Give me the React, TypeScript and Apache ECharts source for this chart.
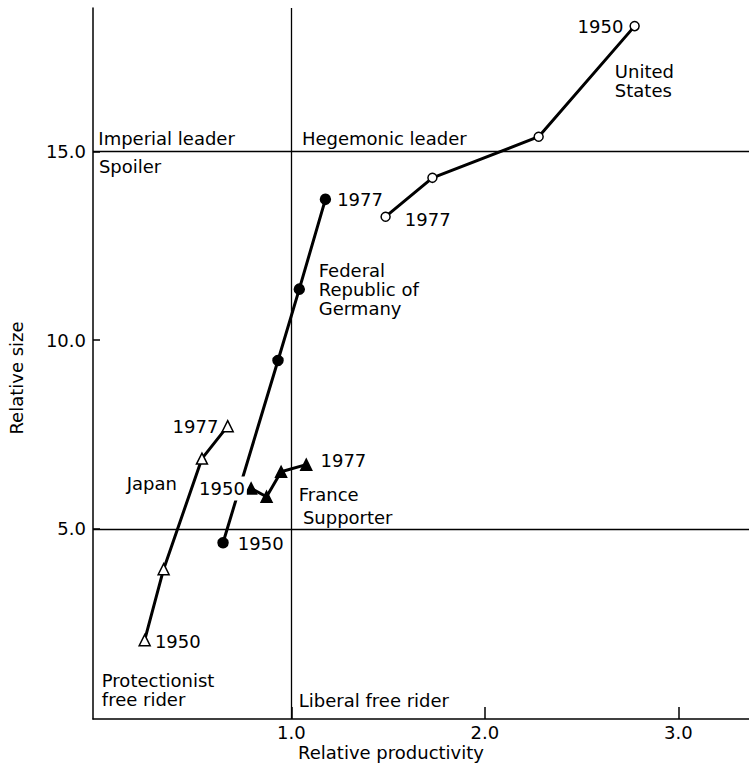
import React, { useEffect, useRef } from "react";
import * as echarts from "echarts";

// ---- data ----
const xTicks = [1, 2, 3];
const yTicks = [5, 10, 15];
const years = ["1950", "", "", "1977"];

const usX = [2.774, 2.278, 1.729, 1.487];
const usY = [18.32, 15.39, 14.3, 13.27];
const deX = [0.647, 0.931, 1.041, 1.176];
const deY = [4.63, 9.46, 11.35, 13.73];
const jpX = [0.242, 0.34, 0.538, 0.671];
const jpY = [2.05, 3.93, 6.86, 7.72];
const frX = [0.792, 0.872, 0.947, 1.077];
const frY = [6.07, 5.85, 6.51, 6.7];

const thresholdX = [1.0];
const thresholdY = [15.0, 5.0];

const noteTexts = [
  "Imperial leader",
  "Hegemonic leader",
  "Spoiler",
  "United\nStates",
  "Federal\nRepublic of\nGermany",
  "Japan",
  "France",
  "Supporter",
  "Protectionist\nfree rider",
  "Liberal free rider",
];
const noteX = [0.0, 1.052, 0.003, 2.669, 1.139, 0.147, 1.036, 1.057, 0.018, 1.036];
const noteY = [15.35, 15.35, 14.59, 16.86, 11.35, 6.19, 5.92, 5.29, 0.73, 0.44];

const xName = "Relative productivity";
const yName = "Relative size";

// ---- styles ----
const FONT = "DejaVu Sans";
const INK = "#000";
const baseText = { fontFamily: FONT, fontSize: 18, color: INK };

type LabelCfg = { position: string; distance: number; offset?: number[]; bg?: boolean };

function countrySeries(
  name: string,
  xs: number[],
  ys: number[],
  symbol: string,
  filled: boolean,
  size: number,
  labels: Record<number, LabelCfg>,
  z: number
) {
  return {
    name,
    type: "line",
    z,
    symbol,
    symbolSize: size,
    showAllSymbol: true,
    lineStyle: { color: INK, width: 3 },
    itemStyle: {
      color: filled ? INK : "#fff",
      borderColor: INK,
      borderWidth: 1.5,
    },
    data: xs.map((x, i) => {
      const cfg = labels[i];
      const d: any = { value: [x, ys[i]] };
      if (cfg && years[i]) {
        d.label = {
          show: true,
          formatter: years[i],
          position: cfg.position,
          distance: cfg.distance,
          offset: cfg.offset || [0, 0],
          ...baseText,
          ...(cfg.bg
            ? { backgroundColor: "#fff", padding: [3, 2, 3, 0] }
            : {}),
        };
      } else {
        d.label = { show: false };
      }
      return d;
    }),
  };
}

export default function App() {
  const ref = useRef<HTMLDivElement>(null);

  useEffect(() => {
    if (!ref.current) return;
    const chart = echarts.init(ref.current, undefined, { renderer: "svg" });

    const option: any = {
      animation: false,
      backgroundColor: "#fff",
      grid: { left: 93, right: 0, top: 8, bottom: 44 },
      xAxis: {
        type: "value",
        min: -0.025,
        max: 3.365,
        splitLine: { show: false },
        axisLine: { show: true, onZero: false, lineStyle: { color: INK, width: 1.5 } },
        axisTick: {
          show: true,
          inside: true,
          length: 12,
          customValues: xTicks,
          lineStyle: { color: INK, width: 1.5 },
        },
        axisLabel: {
          customValues: xTicks,
          formatter: (v: number) => Number(v).toFixed(1),
          margin: 4,
          ...baseText,
        },
      },
      yAxis: {
        type: "value",
        min: -0.04,
        max: 18.8,
        splitLine: { show: false },
        axisLine: { show: true, onZero: false, lineStyle: { color: INK, width: 1.5 } },
        axisTick: {
          show: true,
          inside: true,
          length: 7,
          customValues: yTicks,
          lineStyle: { color: INK, width: 1.5 },
        },
        axisLabel: {
          customValues: yTicks,
          formatter: (v: number) => Number(v).toFixed(1),
          margin: 7,
          ...baseText,
        },
      },
      graphic: [
        {
          type: "text",
          x: 391,
          y: 752,
          style: { text: xName, align: "center", verticalAlign: "middle", font: `18px "${FONT}"`, fill: INK },
        },
        {
          type: "text",
          x: 16,
          y: 378,
          rotation: Math.PI / 2,
          style: { text: yName, align: "center", verticalAlign: "middle", font: `18px "${FONT}"`, fill: INK },
        },
      ],
      series: [
        {
          name: "notes",
          type: "scatter",
          z: 1,
          symbolSize: 1,
          itemStyle: { color: "#fff", opacity: 0 },
          label: {
            show: true,
            position: "right",
            distance: 0,
            align: "left",
            lineHeight: 19,
            opacity: 1,
            formatter: (p: any) => noteTexts[p.dataIndex],
            ...baseText,
          },
          emphasis: { disabled: true },
          data: noteX.map((x, i) => [x, noteY[i]]),
          markLine: {
            silent: true,
            symbol: "none",
            label: { show: false },
            lineStyle: { type: "solid", color: INK, width: 1.3 },
            data: [
              ...thresholdX.map((v) => ({ xAxis: v })),
              ...thresholdY.map((v) => ({ yAxis: v })),
            ],
          },
        },
        countrySeries("United States", usX, usY, "circle", false, 9, {
          0: { position: "left", distance: 6 },
          3: { position: "right", distance: 14, offset: [0, 3] },
        }, 3),
        countrySeries("Germany", deX, deY, "circle", true, 10, {
          0: { position: "right", distance: 9, offset: [0, 1] },
          3: { position: "right", distance: 6 },
        }, 3),
        countrySeries("Japan", jpX, jpY, "triangle", false, 11, {
          0: { position: "right", distance: 4, offset: [0, 1] },
          3: { position: "left", distance: 3 },
        }, 3),
        countrySeries("France", frX, frY, "triangle", true, 11, {
          0: { position: "left", distance: -2, bg: true },
          3: { position: "right", distance: 8, offset: [0, -4] },
        }, 4),
      ],
    };

    chart.setOption(option);
    return () => chart.dispose();
  }, []);

  return (
    <div
      ref={ref}
      style={{ position: "fixed", left: 0, top: 0, width: 749, height: 763, background: "#fff" }}
    />
  );
}
